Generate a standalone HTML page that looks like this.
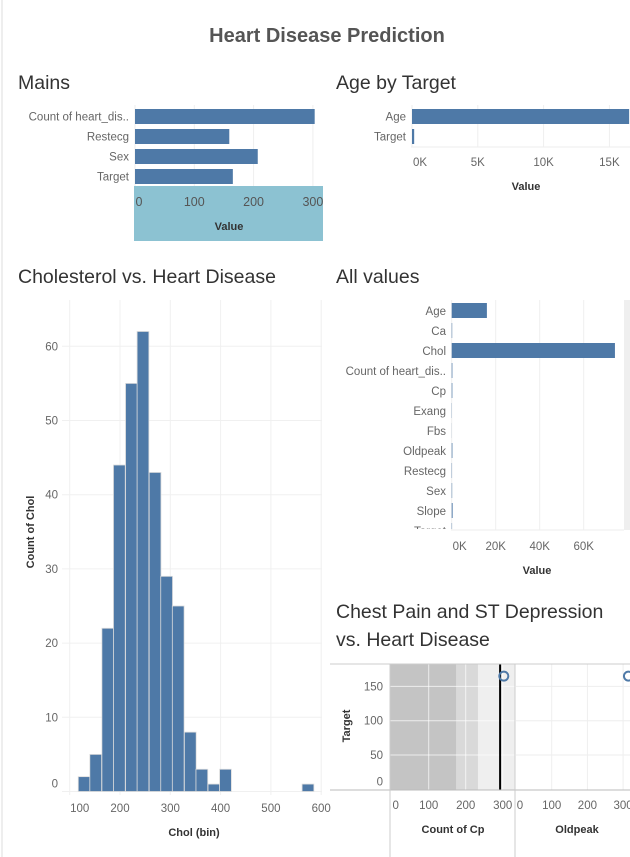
<!DOCTYPE html>
<html><head><meta charset="utf-8">
<style>
html,body{margin:0;padding:0;background:#fff;}
svg{display:block;font-family:"Liberation Sans",sans-serif;}
.t{fill:#333;font-size:19.5px;}
.lbl{fill:#666;font-size:11.5px;}
.ax{fill:#333;font-size:11px;font-weight:bold;}
</style></head>
<body>
<svg id="s" width="630" height="857" viewBox="0 0 630 857">
<line x1="2" y1="0" x2="2" y2="857" stroke="#ddd"/>
<text x="327" y="42" text-anchor="middle" style="fill:#555;font-size:20px;font-weight:bold">Heart Disease Prediction</text>
<text class="t" x="18" y="89">Mains</text>
<text class="t" x="336" y="89">Age by Target</text>
<text class="t" x="18" y="283">Cholesterol vs. Heart Disease</text>
<text class="t" x="336" y="283">All values</text>
<text class="t" x="336" y="618">Chest Pain and ST Depression</text>
<text class="t" x="336" y="646">vs. Heart Disease</text>
<g id="g"></g>
</svg>
<script>
// Mains
const mainsCats = ["Count of heart_dis..","Restecg","Sex","Target"];
const mainsVals = [303,159,207,165];
const mainsTicks = [0,100,200,300];
// Age by Target
const ageCats = ["Age","Target"];
const ageVals = [16500,165];
const ageTicks = [0,5000,10000,15000];
const ageTickLabels = ["0K","5K","10K","15K"];
// Cholesterol histogram
const cholBinStart = [117,140,164,187,211,234,258,281,304,328,351,375,398,562];
const cholCounts = [2,5,22,44,55,62,43,29,25,8,3,1,3,1];
const cholBinSize = 23.45;
const cholXTicks = [100,200,300,400,500,600];
const cholYTicks = [0,10,20,30,40,50,60];
// All values
const allCats = ["Age","Ca","Chol","Count of heart_dis..","Cp","Exang","Fbs","Oldpeak","Restecg","Sex","Slope","Target"];
const allVals = [16000,220,74200,303,293,99,45,320,152,207,424,165];
const allTicks = [0,20000,40000,60000];
const allTickLabels = ["0K","20K","40K","60K"];
// Chest pain / oldpeak
const cpCount = [303];
const cpTarget = [165];
const oldpeakVal = [315];
const cpRefLine = [293];
const cpBands = [174,233];
const cpTicks = [0,100,200,300];
const targetTicks = [0,50,100,150];

const NS="http://www.w3.org/2000/svg";
const G=document.getElementById('g');
function el(tag,attrs,parent){const e=document.createElementNS(NS,tag);for(const k in attrs)e.setAttribute(k,attrs[k]);(parent||G).appendChild(e);return e;}
function txt(x,y,s,cls,anchor,parent){const e=el('text',{x:x,y:y,class:cls,'text-anchor':anchor||'start'},parent);e.textContent=s;return e;}
const BAR="#4e79a7";

// ---- Mains
const mx=v=>135+v*0.593;
el('rect',{x:134,y:186,width:189,height:55,fill:'#8cc2d2'});
mainsTicks.forEach(t=>{const l=el('line',{x1:mx(t),y1:105,x2:mx(t),y2:186,stroke:'#eee'});

const e=txt(mx(t)+(t==0?4:0),206,t,'lbl','middle');e.setAttribute('style','fill:#555;font-size:12.5px');});
mainsCats.forEach((c,i)=>{const y=109+i*20;
const r=el('rect',{x:mx(0),y:y,width:mx(mainsVals[i])-mx(0),height:15,fill:BAR});

const e=txt(129,y+11.5,c,'lbl','end');});
let e0=txt(229,230,'Value','ax','middle');

// ---- Age by Target
const ax=v=>412+v*0.01316;
ageTicks.forEach((t,i)=>{const l=el('line',{x1:ax(t),y1:105,x2:ax(t),y2:147,stroke:'#eee'});

const e=txt(ax(t)+(i==0?8:0),166,ageTickLabels[i],'lbl','middle');});
el('line',{x1:411,y1:147,x2:630,y2:147,stroke:'#eee'});
ageCats.forEach((c,i)=>{const y=109+i*20;
const r=el('rect',{x:ax(0),y:y,width:Math.max(1.5,Math.min(630,ax(ageVals[i]))-ax(0)),height:15,fill:BAR});

const e=txt(406,y+11.5,c,'lbl','end');});
e0=txt(526,190,'Value','ax','middle');

// ---- Cholesterol histogram
const hx=v=>120+(v-200)*0.503;
const hy=v=>791.5-v*7.42;
cholYTicks.forEach(t=>{const l=el('line',{x1:62,y1:hy(t),x2:322,y2:hy(t),stroke:'#f0f0f0'});

const e=txt(58,hy(t)+(t==0?-4:4),t,'lbl','end');});
cholXTicks.forEach(t=>{const l=el('line',{x1:hx(t),y1:300,x2:hx(t),y2:795,stroke:'#f0f0f0'});

const e=txt(hx(t)+(t==100?10:0),812,t,'lbl','middle');});
cholBinStart.forEach((b,i)=>{
const r=el('rect',{x:hx(b),y:hy(cholCounts[i]),width:hx(b+cholBinSize)-hx(b),height:hy(0)-hy(cholCounts[i]),fill:BAR,stroke:'#ddd','stroke-width':0.8});
});
e0=txt(194,836,'Chol (bin)','ax','middle');
e0=txt(0,0,'Count of Chol','ax','middle');e0.setAttribute('transform','translate(34,532) rotate(-90)');


// ---- All values
const vx=v=>451.7+v*0.0022;
el('rect',{x:624,y:300,width:6,height:230,fill:'#efefef'});
allTicks.forEach((t,i)=>{const l=el('line',{x1:vx(t),y1:300,x2:vx(t),y2:530,stroke:'#eee'});

const e=txt(vx(t)+(i==0?8:0),550,allTickLabels[i],'lbl','middle');});
el('line',{x1:451,y1:530,x2:624,y2:530,stroke:'#eee'});
const clip=el('clipPath',{id:'avc'});el('rect',{x:330,y:298,width:300,height:231},clip);
const avg=el('g',{'clip-path':'url(#avc)'});
allCats.forEach((c,i)=>{const y=303+i*20;
const r=el('rect',{x:vx(0),y:y,width:vx(allVals[i])-vx(0),height:15,fill:BAR},avg);

const e=txt(446,y+12,c,'lbl','end',avg);});
e0=txt(537,574,'Value','ax','middle');

// ---- Chest pain & oldpeak
const cx=v=>391.7+v*0.37;
const ox=v=>516+v*0.357;
const ty=v=>789.3-v*0.686;
el('rect',{x:390,y:664,width:125,height:126,fill:'#efefef'});
el('rect',{x:390,y:664,width:cx(cpBands[1])-390,height:126,fill:'#d9d9d9'});
el('rect',{x:390,y:664,width:cx(cpBands[0])-390,height:126,fill:'#c4c4c4'});
targetTicks.forEach(t=>{const l=el('line',{x1:380,y1:ty(t),x2:515,y2:ty(t),stroke:t==0?'none':'rgba(255,255,255,0.7)'});

if(t){const l2=el('line',{x1:516,y1:ty(t),x2:630,y2:ty(t),stroke:'#eee'});}
const e=txt(383,ty(t)-(t==0?4:-4),t,'lbl','end');});
cpTicks.forEach((t,i)=>{if(t){const l=el('line',{x1:cx(t),y1:664,x2:cx(t),y2:790,stroke:'rgba(255,255,255,0.7)'});
const l2=el('line',{x1:ox(t),y1:664,x2:ox(t),y2:790,stroke:'#eee'});}
let e=txt(cx(t)+(i==0?4:0),809,t,'lbl','middle');
e=txt(ox(t)+(i==0?4:0),809,t,'lbl','middle');});
el('line',{x1:cx(cpRefLine[0]),y1:664,x2:cx(cpRefLine[0]),y2:790,stroke:'#000','stroke-width':2});
const pt=el('circle',{cx:cx(cpCount[0]),cy:ty(cpTarget[0]),r:4.5,fill:'none',stroke:BAR,'stroke-width':2});

const pt2=el('circle',{cx:ox(oldpeakVal[0]),cy:ty(cpTarget[0]),r:4.5,fill:'none',stroke:BAR,'stroke-width':2});

el('line',{x1:330,y1:664,x2:630,y2:664,stroke:'#ccc'});
el('line',{x1:330,y1:790,x2:630,y2:790,stroke:'#bbb'});
el('line',{x1:390,y1:664,x2:390,y2:857,stroke:'#ccc'});
el('line',{x1:515,y1:664,x2:515,y2:857,stroke:'#ccc'});
e0=txt(453,833,'Count of Cp','ax','middle');
e0=txt(577,833,'Oldpeak','ax','middle');
e0=txt(0,0,'Target','ax','middle');e0.setAttribute('transform','translate(350,726) rotate(-90)');

</script>
</body></html>
